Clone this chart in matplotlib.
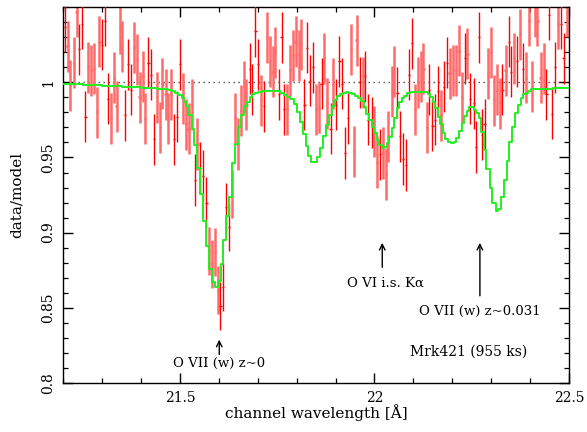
import numpy as np
import matplotlib
matplotlib.use('Agg')
import matplotlib.pyplot as plt
from matplotlib.ticker import MultipleLocator, FixedLocator, FixedFormatter

plt.rcParams['font.family'] = ['DejaVu Serif', 'DejaVu Sans']
plt.rcParams['font.size'] = 10

# data/model ratio, first data set (bright red)
wl_b = [21.204, 21.241, 21.249, 21.257, 21.300, 21.308, 21.316, 21.359, 21.367, 21.374,
        21.419, 21.425, 21.434, 21.485, 21.493, 21.500, 21.538, 21.552, 21.560, 21.568,
        21.604, 21.611, 21.619, 21.626, 21.679, 21.686, 21.694, 21.701, 21.716, 21.754,
        21.761, 21.768, 21.820, 21.827, 21.835, 21.842, 21.864, 21.887, 21.902, 21.910,
        21.917, 21.924, 21.932, 21.962, 21.976, 21.984, 21.993, 22.014, 22.059, 22.066,
        22.074, 22.082, 22.089, 22.096, 22.141, 22.149, 22.156, 22.163, 22.179, 22.186,
        22.232, 22.246, 22.255, 22.262, 22.269, 22.276, 22.283, 22.329, 22.345, 22.352,
        22.367, 22.382, 22.442, 22.449, 22.457, 22.465, 22.479, 22.486]
ratio_b = [1.037, 1.022, 1.039, 0.977, 1.025, 1.041, 0.989, 0.978, 1.012, 0.995,
           1.013, 1.005, 0.962, 0.962, 0.977, 1.012, 0.935, 0.943, 0.938, 0.920,
           0.851, 0.864, 0.917, 0.904, 1.009, 0.995, 1.034, 1.012, 0.984, 0.992,
           1.030, 0.982, 0.985, 1.023, 1.001, 1.010, 0.999, 0.969, 0.985, 1.014,
           0.999, 0.953, 0.976, 1.000, 1.004, 0.975, 0.973, 0.952, 0.993, 0.964,
           0.949, 0.945, 1.005, 1.026, 0.995, 0.971, 0.975, 0.994, 0.997, 1.013,
           1.016, 0.989, 0.986, 0.957, 1.030, 0.965, 0.972, 0.995, 1.027, 1.007,
           1.014, 1.009, 0.992, 1.045, 0.979, 1.010, 1.039, 1.016]
err_b = [0.017, 0.017, 0.017, 0.017, 0.017, 0.017, 0.017, 0.017, 0.017, 0.017,
         0.017, 0.017, 0.017, 0.017, 0.017, 0.017, 0.017, 0.017, 0.017, 0.017,
         0.016, 0.016, 0.016, 0.016, 0.017, 0.017, 0.017, 0.017, 0.017, 0.017,
         0.017, 0.017, 0.017, 0.017, 0.017, 0.017, 0.017, 0.017, 0.017, 0.017,
         0.017, 0.017, 0.017, 0.017, 0.017, 0.017, 0.017, 0.017, 0.017, 0.017,
         0.017, 0.017, 0.017, 0.017, 0.017, 0.017, 0.017, 0.017, 0.017, 0.017,
         0.017, 0.017, 0.017, 0.017, 0.017, 0.017, 0.017, 0.017, 0.017, 0.017,
         0.017, 0.017, 0.017, 0.017, 0.017, 0.017, 0.017, 0.017]

# second data set (light red)
wl_l = [21.211, 21.218, 21.227, 21.234, 21.264, 21.271, 21.278, 21.286, 21.293, 21.323,
        21.330, 21.337, 21.345, 21.352, 21.381, 21.389, 21.396, 21.404, 21.411, 21.441,
        21.448, 21.455, 21.463, 21.470, 21.477, 21.507, 21.515, 21.522, 21.530, 21.545,
        21.575, 21.582, 21.590, 21.597, 21.634, 21.641, 21.648, 21.656, 21.664, 21.671,
        21.708, 21.724, 21.731, 21.738, 21.745, 21.775, 21.783, 21.791, 21.797, 21.805,
        21.812, 21.850, 21.857, 21.871, 21.879, 21.894, 21.940, 21.947, 21.954, 21.970,
        22.000, 22.007, 22.022, 22.029, 22.036, 22.044, 22.051, 22.104, 22.111, 22.119,
        22.126, 22.134, 22.171, 22.193, 22.201, 22.209, 22.216, 22.224, 22.239, 22.292,
        22.300, 22.307, 22.315, 22.323, 22.337, 22.359, 22.374, 22.389, 22.397, 22.405,
        22.412, 22.419, 22.427, 22.435, 22.472, 22.494]
ratio_l = [1.024, 0.998, 1.013, 1.047, 1.010, 1.008, 1.009, 0.980, 1.027, 0.976,
           1.003, 0.984, 1.036, 1.024, 1.023, 1.015, 0.990, 1.004, 0.976, 0.990,
           0.970, 0.999, 0.992, 0.976, 0.992, 0.989, 0.972, 0.969, 0.985, 0.959,
           0.888, 0.879, 0.887, 0.862, 0.926, 0.976, 0.959, 0.981, 0.997, 0.985,
           0.988, 1.030, 1.014, 1.007, 1.020, 0.982, 1.008, 1.018, 1.027, 1.018,
           1.025, 0.982, 0.983, 1.016, 0.986, 0.999, 1.022, 0.954, 1.028, 1.000,
           0.967, 0.947, 0.953, 0.939, 0.964, 0.994, 1.007, 0.982, 1.000, 1.004,
           1.009, 0.970, 0.978, 1.006, 1.008, 1.008, 1.021, 0.990, 1.019, 1.006,
           1.020, 0.988, 0.995, 0.986, 1.008, 1.016, 1.032, 1.003, 1.041, 0.997,
           1.047, 1.041, 1.003, 1.009, 1.039, 1.047]
err_l = [0.017, 0.017, 0.017, 0.017, 0.017, 0.017, 0.017, 0.017, 0.017, 0.017,
         0.017, 0.017, 0.017, 0.017, 0.017, 0.017, 0.017, 0.017, 0.017, 0.017,
         0.017, 0.017, 0.017, 0.017, 0.017, 0.017, 0.017, 0.017, 0.017, 0.017,
         0.016, 0.016, 0.016, 0.016, 0.016, 0.017, 0.017, 0.017, 0.017, 0.017,
         0.017, 0.017, 0.017, 0.017, 0.017, 0.017, 0.017, 0.017, 0.017, 0.017,
         0.017, 0.017, 0.017, 0.017, 0.017, 0.017, 0.017, 0.017, 0.017, 0.017,
         0.017, 0.017, 0.017, 0.017, 0.017, 0.017, 0.017, 0.017, 0.017, 0.017,
         0.017, 0.017, 0.017, 0.017, 0.017, 0.017, 0.017, 0.017, 0.017, 0.017,
         0.017, 0.017, 0.017, 0.017, 0.017, 0.017, 0.017, 0.017, 0.017, 0.017,
         0.017, 0.017, 0.017, 0.017, 0.017, 0.017]
bin_half = 0.0028

# absorption model, step edges and values
model_wl = [21.200, 21.250, 21.300, 21.350, 21.400, 21.440, 21.470, 21.480, 21.488, 21.496,
            21.504, 21.511, 21.5145, 21.5214, 21.530, 21.5368, 21.5445, 21.5522, 21.560, 21.5677,
            21.5754, 21.583, 21.590, 21.5968, 21.6045, 21.6114, 21.6191, 21.626, 21.6336, 21.6413,
            21.6482, 21.6559, 21.6636, 21.6713, 21.679, 21.6859, 21.6936, 21.7013, 21.7099, 21.725,
            21.758, 21.7665, 21.775, 21.7837, 21.7923, 21.8008, 21.8077, 21.8154, 21.8231, 21.830,
            21.8377, 21.8531, 21.8599, 21.8677, 21.8754, 21.8822, 21.8899, 21.8977, 21.9045, 21.9122,
            21.9199, 21.9276, 21.9345, 21.9422, 21.9499, 21.9568, 21.9645, 21.972, 21.979, 21.9859,
            21.9927, 21.9987, 22.0056, 22.0124, 22.0184, 22.0253, 22.0313, 22.0381, 22.045, 22.051,
            22.057, 22.0639, 22.0707, 22.0767, 22.0844, 22.0913, 22.110, 22.1367, 22.1427, 22.1496,
            22.1555, 22.1624, 22.1684, 22.1753, 22.1821, 22.189, 22.1975, 22.2044, 22.2104, 22.2172,
            22.2241, 22.230, 22.237, 22.243, 22.255, 22.2618, 22.2686, 22.2746, 22.2815, 22.2875,
            22.296, 22.3029, 22.3115, 22.3183, 22.3252, 22.332, 22.3397, 22.3466, 22.3543, 22.3611,
            22.3689, 22.3757, 22.3826, 22.3886, 22.3954, 22.4031, 22.430, 22.460, 22.490, 22.500]
model_ratio = [0.9987, 0.9983, 0.9978, 0.9972, 0.9965, 0.9958, 0.9950, 0.9940, 0.9931, 0.9916,
               0.9895, 0.9870, 0.984, 0.978, 0.969, 0.958, 0.943, 0.926, 0.908, 0.891,
               0.876, 0.867, 0.864, 0.868, 0.879, 0.895, 0.911, 0.924, 0.946, 0.959,
               0.970, 0.978, 0.984, 0.987, 0.990, 0.992, 0.993, 0.9935, 0.994, 0.9945,
               0.9927, 0.9916, 0.9905, 0.9890, 0.9856, 0.9800, 0.9734, 0.9656, 0.9578, 0.9512,
               0.9467, 0.9505, 0.9565, 0.9643, 0.9716, 0.9783, 0.9842, 0.9882, 0.9909, 0.9922,
               0.9931, 0.9933, 0.9931, 0.9922, 0.9911, 0.9898, 0.9876, 0.9838, 0.979, 0.975,
               0.970, 0.966, 0.9616, 0.958, 0.9565, 0.957, 0.9594, 0.9638, 0.9698, 0.976,
               0.9827, 0.9871, 0.9898, 0.9911, 0.9927, 0.9933, 0.9936, 0.992, 0.9905, 0.9871,
               0.9827, 0.9771, 0.9723, 0.9665, 0.962, 0.9605, 0.9594, 0.960, 0.963, 0.9676,
               0.9727, 0.9778, 0.9809, 0.9834, 0.9816, 0.9794, 0.976, 0.9667, 0.955, 0.9423,
               0.9294, 0.9199, 0.9146, 0.9159, 0.9234, 0.935, 0.9476, 0.960, 0.9705, 0.9794,
               0.9849, 0.9893, 0.992, 0.9931, 0.9945, 0.9953, 0.9957, 0.996, 0.9965, 0.9965]

fig = plt.figure(figsize=(5.87, 4.32), dpi=100)
ax = fig.add_axes([0.1078, 0.1141, 0.8615, 0.8689])

ax.axhline(1.0, color='0.3', ls=(0, (1, 2.6)), lw=1.0, zorder=1)

ax.errorbar(wl_l, ratio_l, yerr=err_l, xerr=bin_half, fmt='none',
            ecolor='#ff6a6a', elinewidth=1.8, capsize=0, zorder=2)
ax.errorbar(wl_b, ratio_b, yerr=err_b, xerr=bin_half, fmt='none',
            ecolor='#ff0000', elinewidth=1.0, capsize=0, zorder=3)

ax.step(model_wl, model_ratio, where='post', color='#22ee22', lw=1.4, zorder=4)

# line identifications
arrow = dict(arrowstyle='->', color='k', lw=1.0, mutation_scale=10)
ax.annotate('', xy=(21.601, 0.8305), xytext=(21.601, 0.817), arrowprops=arrow)
ax.text(21.60, 0.8125, 'O VII (w) z~0', ha='center', va='center', fontsize=9.5)
ax.annotate('', xy=(22.020, 0.895), xytext=(22.020, 0.875), arrowprops=arrow)
ax.text(22.027, 0.8665, 'O VI i.s. K\u03b1', ha='center', va='center', fontsize=9.5)
ax.annotate('', xy=(22.271, 0.895), xytext=(22.271, 0.856), arrowprops=arrow)
ax.text(22.27, 0.8477, 'O VII (w) z~0.031', ha='center', va='center', fontsize=9.5)
ax.text(22.241, 0.8205, 'Mrk421 (955 ks)', ha='center', va='center', fontsize=10)

ax.set_xlim(21.2, 22.5)
ax.set_ylim(0.8, 1.05)

ax.xaxis.set_major_locator(FixedLocator([21.5, 22.0, 22.5]))
ax.xaxis.set_major_formatter(FixedFormatter(['21.5', '22', '22.5']))
ax.xaxis.set_minor_locator(MultipleLocator(0.1))
ax.yaxis.set_major_locator(FixedLocator([0.8, 0.85, 0.9, 0.95, 1.0]))
ax.yaxis.set_major_formatter(FixedFormatter(['0.8', '0.85', '0.9', '0.95', '1']))
ax.yaxis.set_minor_locator(MultipleLocator(0.01))
for lab in ax.get_yticklabels():
    lab.set_rotation(90)
    lab.set_va('center')

ax.tick_params(which='both', direction='in', top=True, right=True, colors='k')
ax.tick_params(which='major', length=7, width=1, pad=6)
ax.tick_params(which='minor', length=3.5, width=0.9)
for s in ax.spines.values():
    s.set_linewidth(1.0)

fig.text(17 / 587, 1 - 195 / 432, 'data/model', rotation=90, ha='center', va='center', fontsize=11)
fig.text(316 / 587, 1 - 413 / 432, 'channel wavelength [\u00c5]', ha='center', va='center', fontsize=11)

fig.savefig('out.png', dpi=100)
